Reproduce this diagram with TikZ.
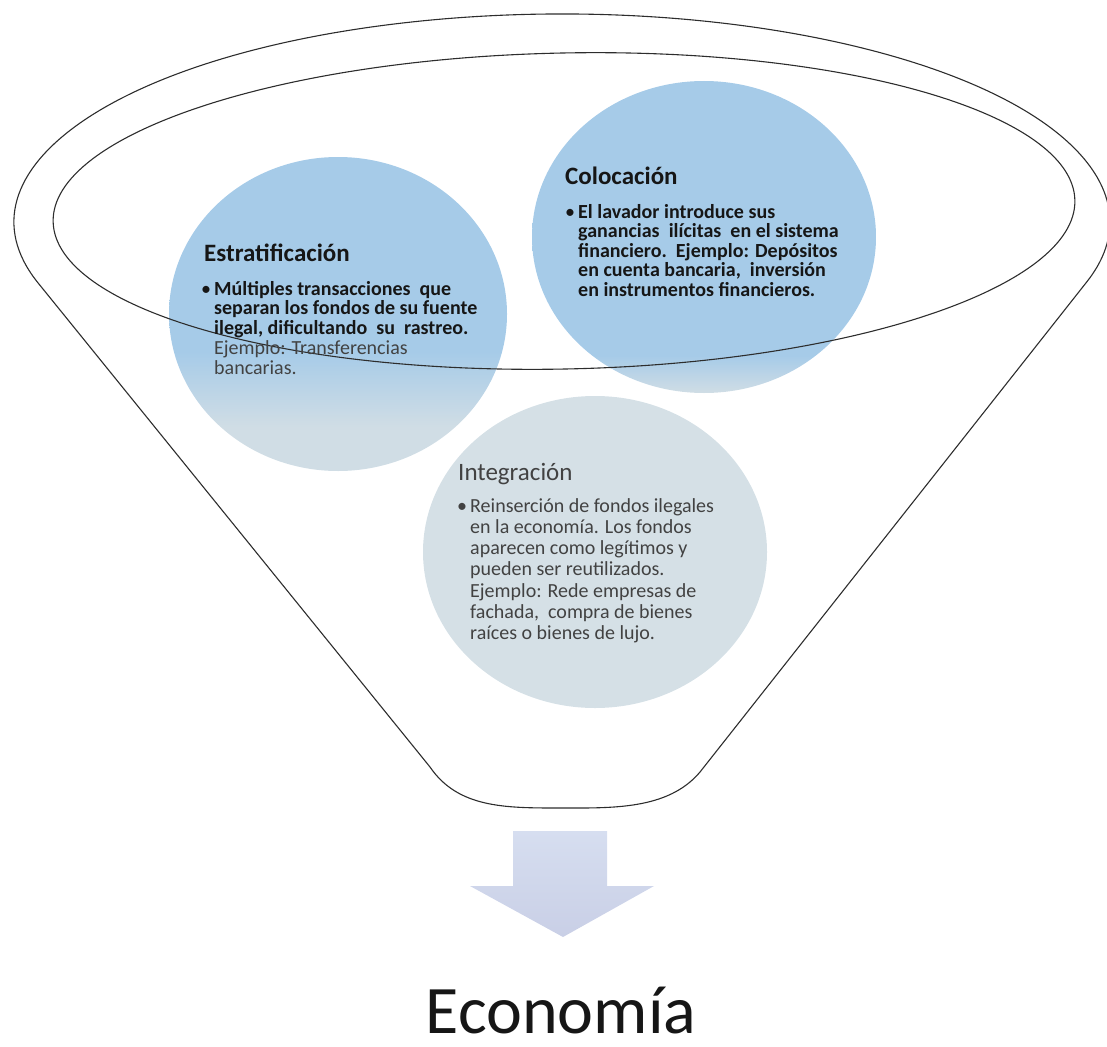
\documentclass[tikz,border=0pt]{standalone}
\usepackage{fontspec}
\setmainfont{Carlito}
\usetikzlibrary{calc}

\definecolor{bubbleblue}{RGB}{166,203,232}
\definecolor{bubblegrey}{RGB}{208,221,229}
\definecolor{intgrey}{RGB}{213,224,230}
\definecolor{inkdark}{RGB}{22,22,22}
\definecolor{inksoft}{RGB}{66,66,66}
\definecolor{outline}{RGB}{45,45,45}
\definecolor{arrowtop}{RGB}{214,222,240}
\definecolor{arrowbot}{RGB}{201,207,230}

% blue bubbles fading to grey-blue near their lower edge
\pgfdeclareverticalshading{estratshade}{100bp}{color(0bp)=(bubblegrey); color(32bp)=(bubblegrey); color(44bp)=(bubbleblue); color(100bp)=(bubbleblue)}
\pgfdeclareverticalshading{colocshade}{100bp}{color(0bp)=(bubblegrey); color(25bp)=(bubblegrey); color(31bp)=(bubbleblue); color(100bp)=(bubbleblue)}

% stacked text lines with a fixed baseline distance
\newcommand\linestack[2]{\vtop{\baselineskip=#1\lineskiplimit=-100pt\lineskip=0pt #2}}

\tikzset{
  funnelline/.style={draw=outline, line width=1.1pt},
  bubbletitle/.style={anchor=base west, inner sep=0pt, text=inkdark, font=\fontsize{25}{30}\selectfont},
  bubblebody/.style={anchor=base west, inner sep=0pt, text=inkdark, font=\fontsize{20}{20}\selectfont},
}

\begin{document}
\begin{tikzpicture}[x=1pt,y=-1pt]
\useasboundingbox (0,0) rectangle (1107,1046);

% bubbles
\shade[shading=estratshade] (338,314) ellipse [x radius=169, y radius=157];
\shade[shading=colocshade] (704,237) ellipse [x radius=172, y radius=156];
\fill[intgrey] (595,552) ellipse [x radius=172, y radius=156];

% funnel: outer rim, sides and rounded spout
\draw[funnelline] (562,222) ++(163.3:548 and 208)
  arc[start angle=163.3, end angle=376.7, x radius=548, y radius=208]
  -- (700,772) .. controls (668,810) and (612,808) .. (560,808)
  .. controls (505,808) and (458,808) .. (430,767) -- cycle;
% inner rim
\draw[funnelline, rotate around={1.2:(564,211)}] (564,211) ellipse [x radius=511, y radius=158];

% Estratificación
\node[bubbletitle] (estrT) at (204,261) {\bfseries Estratificación};
\node[bubblebody] (estrB) at (214,295) {\linestack{19.8pt}{%
  \hbox{\llap{•\hskip 3pt}\bfseries Múltiples transacciones\ \ que}
  \hbox{\bfseries separan los fondos de su fuente}
  \hbox{\bfseries ilegal, dificultando\ \ su\ \ rastreo.}
  \hbox{\color{inksoft}Ejemplo: Transferencias}
  \hbox{\color{inksoft}bancarias.}}};

% Colocación
\node[bubbletitle] (colT) at (565,184) {\bfseries Colocación};
\node[bubblebody] (colB) at (578,218) {\linestack{19.6pt}{%
  \hbox{\llap{•\hskip 3pt}\bfseries El lavador introduce sus}
  \hbox{\bfseries ganancias\ \ ilícitas\ \ en el sistema}
  \hbox{\bfseries financiero.\ \ Ejemplo: Depósitos}
  \hbox{\bfseries en cuenta bancaria,\ \ inversión}
  \hbox{\bfseries en instrumentos financieros.}}};

% Integración
\node[bubbletitle, text=inksoft] (intT) at (458,480) {Integración};
\node[bubblebody, text=inksoft] (intB) at (470,512) {\linestack{21.3pt}{%
  \hbox{\llap{•\hskip 3pt}Reinserción de fondos ilegales}
  \hbox{en la economía. Los fondos}
  \hbox{aparecen como legítimos y}
  \hbox{pueden ser reutilizados.}
  \hbox{Ejemplo: Rede empresas de}
  \hbox{fachada,\ \ compra de bienes}
  \hbox{raíces o bienes de lujo.}}};

% block arrow below the funnel
\shade[top color=arrowtop, bottom color=arrowbot]
  (513,831) -- (607,831) -- (607,886) -- (654,886) -- (563,937)
  -- (470,886) -- (513,886) -- cycle;

\node[anchor=base, inner sep=0pt, text=inkdark, font=\fontsize{68}{80}\selectfont] (econ) at (561,1033) {Economía};
\end{tikzpicture}
\end{document}
